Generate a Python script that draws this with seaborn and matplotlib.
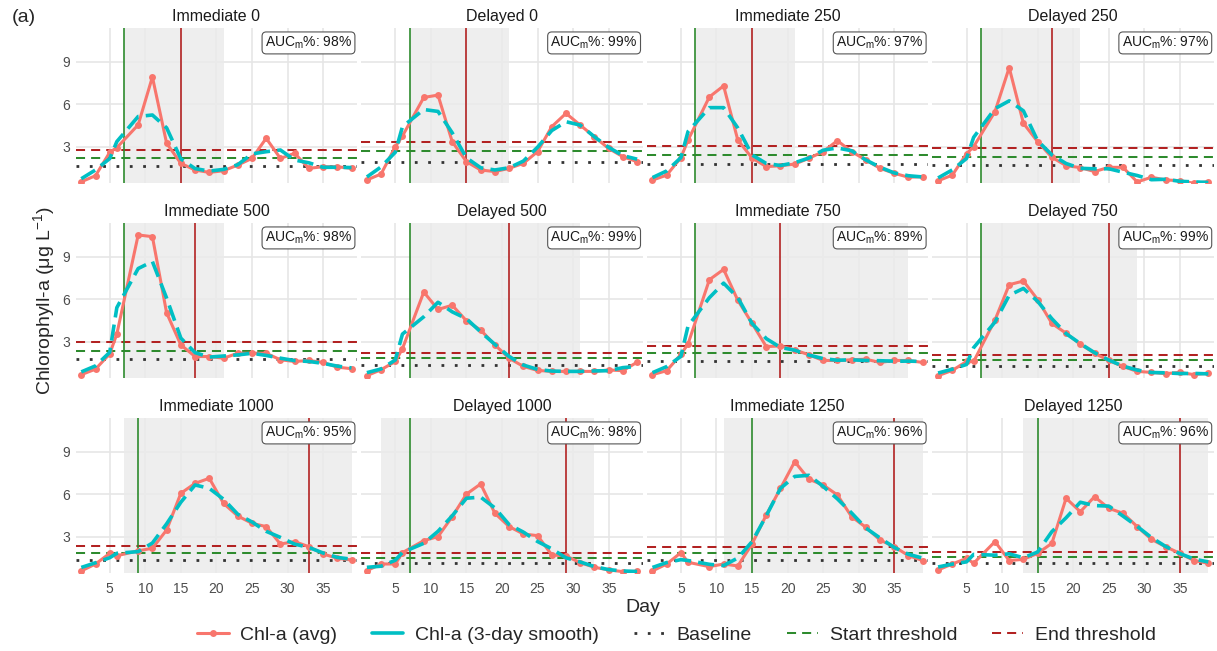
import numpy as np
import pandas as pd
import matplotlib
matplotlib.use("Agg")
import matplotlib.pyplot as plt
from matplotlib.lines import Line2D
import seaborn as sns

# Sampling days (same for every treatment)
days = [1, 3, 5, 6, 9, 11, 13, 15, 17, 19, 21, 23, 25, 27, 29, 31, 33, 35, 37, 39]

panel_titles = ["Immediate 0", "Delayed 0", "Immediate 250", "Delayed 250",
                "Immediate 500", "Delayed 500", "Immediate 750", "Delayed 750",
                "Immediate 1000", "Delayed 1000", "Immediate 1250", "Delayed 1250"]

# Mean chlorophyll-a per sampling day (µg/L)
imm_0 = [0.52, 0.95, 2.60, 2.93, 4.54, 7.92, 3.24, 1.82, 1.35, 1.18, 1.30, 1.70, 2.17, 3.59, 2.17, 2.53, 1.47, 1.58, 1.58, 1.47]
del_0 = [0.65, 1.07, 3.00, 3.75, 6.47, 6.64, 3.35, 1.94, 1.35, 1.24, 1.47, 1.82, 2.65, 4.41, 5.35, 4.52, 3.69, 2.87, 2.29, 1.94]
imm_250 = [0.64, 0.99, 2.23, 3.46, 6.51, 7.29, 3.46, 2.20, 1.59, 1.65, 1.77, 2.18, 2.65, 3.42, 2.65, 2.06, 1.47, 1.12, 0.84, 0.88]
del_250 = [0.59, 0.99, 2.50, 3.00, 5.47, 8.58, 4.65, 3.35, 2.25, 1.66, 1.52, 1.24, 1.54, 1.54, 0.51, 0.84, 0.65, 0.60, 0.41, 0.53]
imm_500 = [0.67, 1.06, 2.14, 3.54, 10.53, 10.41, 5.03, 2.77, 1.95, 1.95, 1.83, 2.18, 2.18, 2.18, 1.72, 1.60, 1.67, 1.53, 1.20, 1.09]
del_500 = [0.60, 1.02, 1.60, 2.50, 6.50, 5.27, 5.57, 4.47, 3.82, 2.77, 1.83, 1.25, 0.97, 0.90, 0.90, 0.90, 0.90, 1.00, 0.95, 1.55]
imm_750 = [0.67, 0.95, 2.10, 2.84, 7.37, 8.10, 5.92, 4.29, 2.65, 2.70, 2.42, 2.07, 1.67, 1.67, 1.72, 1.76, 1.53, 1.67, 1.67, 1.53]
del_750 = [0.60, 0.97, 1.60, 1.60, 4.52, 7.02, 7.28, 5.97, 4.29, 3.59, 2.82, 2.18, 1.67, 1.25, 0.90, 0.83, 0.74, 0.83, 0.67, 0.78]
imm_1000 = [0.58, 1.07, 1.82, 1.65, 2.00, 2.18, 3.47, 6.06, 6.76, 7.12, 5.35, 4.46, 3.94, 3.71, 2.48, 2.65, 2.29, 1.78, 1.47, 1.35]
del_1000 = [0.60, 1.07, 1.07, 1.87, 2.72, 3.00, 4.41, 6.00, 6.72, 4.65, 3.71, 3.19, 3.07, 1.71, 1.64, 1.16, 0.84, 0.65, 0.53, 0.55]
imm_1250 = [0.58, 1.07, 1.87, 1.19, 0.88, 1.07, 0.93, 2.48, 4.53, 6.41, 8.29, 7.05, 6.65, 5.94, 4.41, 3.66, 2.76, 2.29, 1.66, 1.31]
del_1250 = [0.65, 1.07, 1.47, 1.12, 2.65, 1.31, 1.40, 1.82, 2.53, 5.71, 4.76, 5.82, 5.00, 4.65, 3.71, 2.81, 2.29, 1.82, 1.31, 1.12]

series = [imm_0, del_0, imm_250, del_250, imm_500, del_500,
          imm_750, del_750, imm_1000, del_1000, imm_1250, del_1250]

# Bloom thresholds per treatment
baseline = [1.66, 1.94, 1.81, 1.71, 1.76, 1.37, 1.60, 1.25, 1.35, 1.12, 1.35, 1.12]
start_thr = [2.22, 2.69, 2.42, 2.29, 2.35, 1.83, 2.18, 1.72, 1.87, 1.52, 1.82, 1.54]
end_thr = [2.77, 3.35, 3.05, 2.87, 2.96, 2.23, 2.72, 2.07, 2.36, 1.87, 2.29, 1.89]

# Bloom start / end days and the shaded bloom window
start_day = [7, 7, 7, 7, 7, 7, 7, 7, 9, 7, 15, 15]
end_day = [15, 15, 15, 17, 17, 21, 19, 25, 33, 29, 35, 35]
window_from = [7, 7, 7, 7, 7, 7, 7, 7, 7, 3, 11, 13]
window_to = [21, 21, 21, 21, 21, 31, 37, 29, 39, 33, 39, 39]

auc_pct = [98, 99, 97, 97, 98, 99, 89, 99, 95, 98, 96, 96]

# Long-format table with a centred 3-sample rolling mean
frames = []
for title, vals in zip(panel_titles, series):
    d = pd.DataFrame({"panel": title, "day": days, "chl": vals})
    d["smooth"] = d["chl"].rolling(3, center=True, min_periods=1).mean()
    frames.append(d)
df = pd.concat(frames, ignore_index=True)

sns.set_theme(style="white")
plt.rcParams["font.family"] = ["Liberation Sans", "DejaVu Sans"]
plt.rcParams["mathtext.fontset"] = "custom"
plt.rcParams["mathtext.rm"] = "Liberation Sans"
plt.rcParams["mathtext.it"] = "Liberation Sans:italic"
plt.rcParams["mathtext.bf"] = "Liberation Sans:bold"

SALMON = "#F8766D"
CYAN = "#00BFC4"
BASE_C = "#333333"
GREEN = "#2E8B2E"
RED = "#B22222"

DOTS = (0, (1, 3.8))
DASH = (0, (4.5, 3))
LONGDASH = (0, (4.5, 2))

FW, FH = 1217, 651
fig = plt.figure(figsize=(FW / 100, FH / 100), dpi=100)

for i, title in enumerate(panel_titles):
    r, c = divmod(i, 4)
    left = 75.6 + 285.6 * c
    bot = 183.2 + 195 * r
    ax = fig.add_axes([left / FW, (FH - bot) / FH, 281.6 / FW, 155 / FH])
    sub = df[df["panel"] == title]

    ax.axvspan(window_from[i], window_to[i], color="#EBEBEB", alpha=0.85, lw=0, zorder=0.6)
    ax.axhline(baseline[i], color=BASE_C, lw=2.0, ls=DOTS, zorder=1)
    ax.axhline(start_thr[i], color=GREEN, lw=1.45, ls=DASH, zorder=1)
    ax.axhline(end_thr[i], color=RED, lw=1.45, ls=DASH, zorder=1)
    ax.axvline(start_day[i], color=GREEN, lw=1.2, zorder=1.5)
    ax.axvline(end_day[i], color=RED, lw=1.2, zorder=1.5)

    sns.lineplot(data=sub, x="day", y="chl", ax=ax, color=SALMON, lw=2.2,
                 marker="o", markersize=5, markeredgewidth=0, zorder=3, legend=False)
    sns.lineplot(data=sub, x="day", y="smooth", ax=ax, color=CYAN, lw=2.6,
                 linestyle=LONGDASH, zorder=4, legend=False)

    ax.text(0.982, 0.905, r"AUC$_{\mathrm{m}}$%: " + f"{auc_pct[i]}%",
            transform=ax.transAxes, ha="right", va="center", fontsize=10,
            color="#1A1A1A", zorder=6,
            bbox=dict(boxstyle="round,pad=0.2,rounding_size=0.3", fc="white",
                      ec="#555555", lw=0.8))

    ax.set_xlim(0.2, 39.8)
    ax.set_ylim(0.42, 11.36)
    ax.set_xticks(range(5, 40, 5))
    ax.set_yticks([3, 6, 9])
    ax.set_axisbelow(True)
    ax.grid(which="major", color="#E6E6E6", lw=1.2)
    ax.tick_params(which="both", length=0, labelsize=10, labelcolor="#4D4D4D", pad=4)
    ax.tick_params(axis="x", pad=6)
    if c > 0:
        ax.tick_params(labelleft=False)
    if r < 2:
        ax.tick_params(labelbottom=False)
    for s in ax.spines.values():
        s.set_visible(False)
    ax.set_xlabel("")
    ax.set_ylabel("")
    ax.set_title(title, fontsize=11.5, color="#1A1A1A", pad=5)

fig.text(0.5285, 1 - 608 / FH, "Day", ha="center", va="center", fontsize=14)
fig.text(44 / FW, 1 - 300.5 / FH, r"Chlorophyll-a (μg L$^{-1}$)", rotation=90,
         ha="center", va="center", fontsize=14)
fig.text(12 / FW, 1 - 18 / FH, "(a)", ha="left", va="center", fontsize=14)

handles = [
    Line2D([], [], color=SALMON, lw=2.2, marker="o", markersize=5, markeredgewidth=0),
    Line2D([], [], color=CYAN, lw=2.6),
    Line2D([], [], color=BASE_C, lw=2.0, ls=DOTS),
    Line2D([], [], color=GREEN, lw=1.45, ls=DASH),
    Line2D([], [], color=RED, lw=1.45, ls=DASH),
]
labels = ["Chl-a (avg)", "Chl-a (3-day smooth)", "Baseline", "Start threshold", "End threshold"]
fig.legend(handles, labels, loc="center", bbox_to_anchor=(0.556, 1 - 635 / FH), ncol=5,
           frameon=False, fontsize=14, handlelength=1.6, handletextpad=0.6,
           columnspacing=1.8)

fig.savefig("out.png", dpi=100)
